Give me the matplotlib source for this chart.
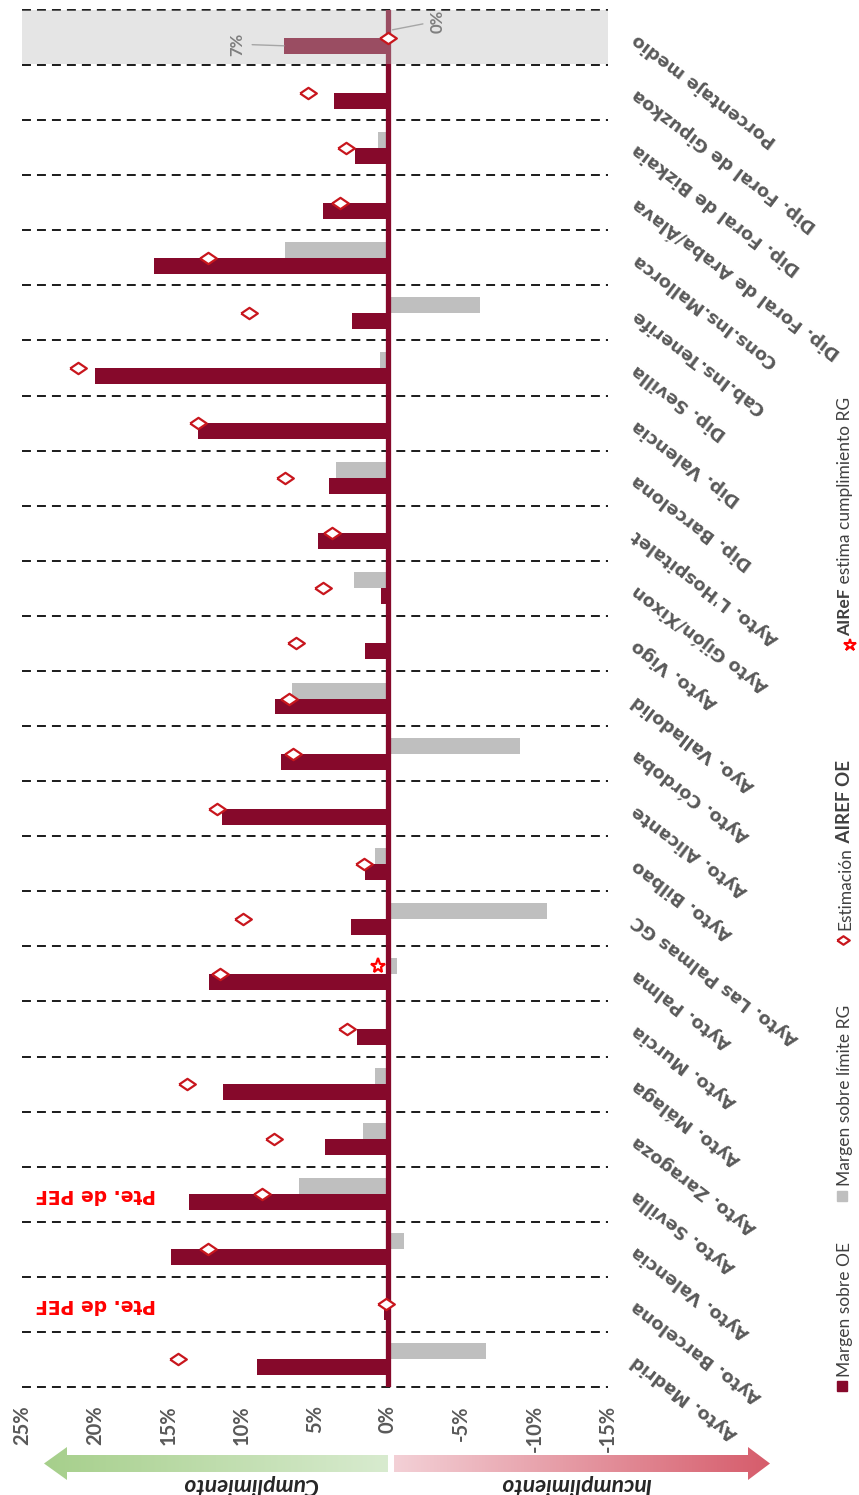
import numpy as np
import matplotlib
matplotlib.use("Agg")
from matplotlib import pyplot as plt
from matplotlib.patches import Polygon
from matplotlib.colors import LinearSegmentedColormap
from matplotlib.transforms import blended_transform_factory

# categorias de abajo (0) a arriba
categories = ["Ayto. Madrid", "Ayto. Barcelona", "Ayto. Valencia", "Ayto. Sevilla",
              "Ayto. Zaragoza", "Ayto. Málaga", "Ayto. Murcia", "Ayto. Palma",
              "Ayto. Las Palmas GC", "Ayto. Bilbao", "Ayto. Alicante", "Ayto. Córdoba",
              "Ayo. Valladolid", "Ayto. Vigo", "Ayto Gijón/Xixon", "Ayto. L'Hospitalet",
              "Dip. Barcelona", "Dip. Valencia", "Dip. Sevilla", "Cab.Ins.Tenerife",
              "Cons.Ins.Mallorca", "Dip. Foral de Araba/Álava", "Dip. Foral de Bizkaia",
              "Dip. Foral de Gipuzkoa", "Porcentaje medio"]
margen_oe = [8.93, 0.27, 14.85, 13.58, 4.31, 11.3, 2.12, 12.21, 2.55, 1.57, 11.37, 7.33,
             7.72, 1.57, 0.5, 4.76, 4.0, 12.96, 20.0, 2.48, 16.0, 4.46, 2.25, 3.69, 7.1]
nan = np.nan
margen_rg = [-6.7, nan, -1.07, 6.06, 1.73, 0.89, nan, -0.59, -10.87, 0.89, nan, -9.04,
             6.58, nan, 2.32, nan, 3.55, nan, 0.52, -6.31, 7.04, nan, 0.66, nan, nan]
estimacion_oe = [14.33, 0.14, 12.28, 8.63, 7.81, 13.74, 2.8, 11.5, 9.93, 1.62, 11.7, 6.51,
                 6.74, 6.29, 4.46, 3.85, 7.04, 12.98, 21.16, 9.48, 12.28, 3.26, 2.87, 5.44, 0.0]
airef_rg_idx = [7]
airef_rg_val = [0.66]
pte_pef_idx = [1, 3]
ticks = [25, 20, 15, 10, 5, 0, -5, -10, -15]
tick_labels = [f"{t}%" for t in ticks]
medio_oe_label = "7%"
medio_est_label = "0%"

RED = "#86092B"
GRAY = "#BFBFBF"
TXT = "#595959"
W, H = 859, 1495

fig = plt.figure(figsize=(W / 100, H / 100), dpi=100)
ax = fig.add_axes([22 / W, 1 - 1387 / H, 585.6 / W, 1377 / H])

y = np.arange(len(categories))
h = 0.29
ax.barh(y - h / 2, margen_oe, height=h, color=RED, zorder=2)
ax.barh(y + h / 2, margen_rg, height=h, color=GRAY, zorder=2)
ax.axvline(0, color=RED, lw=3.8, zorder=3)
for k in range(len(categories) + 1):
    ax.axhline(k - 0.5, color="#1a1a1a", lw=1.4, ls=(0, (4.6, 3.1)), zorder=1, clip_on=False)

# banda del porcentaje medio
ax.axhspan(len(categories) - 1.5 + 0.02, len(categories) - 0.5, color=(0.74, 0.74, 0.74),
           alpha=0.38, lw=0, zorder=4)

diamond = [(-1, 0), (0, 0.68), (1, 0), (0, -0.68), (-1, 0)]
ax.plot(estimacion_oe, y, ls="none", marker=diamond, ms=12, mfc="white", mec="#C8161D",
        mew=1.6, zorder=5)
ax.plot(airef_rg_val, np.array(airef_rg_idx) + h / 2, ls="none", marker="*", ms=11,
        mfc="white", mec="#FF0000", mew=1.6, zorder=5)

for i in pte_pef_idx:
    ax.text(20.0, i, "Pte. de PEF", rotation=180, color="red", fontweight="bold",
            ha="center", va="center", fontsize=13.5, zorder=6)

im = len(categories) - 1
ax.annotate(medio_oe_label, xy=(margen_oe[im], im - 0.15), xytext=(10.3, im - 0.12),
            rotation=90, ha="center", va="center", color="#7f7f7f", fontweight="bold",
            fontsize=12, family="Lato",
            arrowprops=dict(arrowstyle="-", color="#a6a6a6", lw=1, shrinkA=3, shrinkB=0),
            zorder=6)
ax.annotate(medio_est_label, xy=(estimacion_oe[im] - 0.3, im + 0.14), xytext=(-3.4, im + 0.3),
            rotation=90, ha="center", va="center", color="#7f7f7f", fontweight="bold",
            fontsize=12, family="Lato",
            arrowprops=dict(arrowstyle="-", color="#a6a6a6", lw=1, shrinkA=3, shrinkB=0),
            zorder=6)

ax.set_xlim(25, -15)
ax.set_ylim(-0.5, len(categories) - 0.5)
ax.set_yticks([])
ax.set_xticks(ticks)
ax.set_xticklabels(tick_labels, rotation=90, fontweight="bold", color=TXT, fontsize=14.5,
                   family="Lato")
ax.tick_params(axis="x", length=0, pad=13)
for s in ax.spines.values():
    s.set_visible(False)

trans = blended_transform_factory(ax.transAxes, ax.transData)
for i, c in enumerate(categories):
    ax.text(1.045, i, c, transform=trans, rotation=143, rotation_mode="anchor",
            ha="right", va="center", fontweight="bold", color=TXT, fontsize=12.8,
            family="DejaVu Sans", clip_on=False)

# capa en pixeles para flechas y leyenda
ov = fig.add_axes([0, 0, 1, 1])
ov.axis("off")


def grad_arrow(pts, x0, x1, c0, c1):
    cmap = LinearSegmentedColormap.from_list("g", [c0, c1])
    grad = np.linspace(0, 1, 256).reshape(1, -1)
    img = ov.imshow(grad, cmap=cmap, extent=[x0, x1, 1481, 1446], aspect="auto", zorder=1)
    poly = Polygon(pts, closed=True, transform=ov.transData, fc="none", ec="none")
    ov.add_patch(poly)
    img.set_clip_path(poly)


grad_arrow([(388, 1455), (67, 1455), (67, 1447), (44, 1463.5), (67, 1480), (67, 1472),
            (388, 1472)], 44, 388, "#a6cf8b", "#d8ebcf")
grad_arrow([(394, 1455), (748, 1455), (748, 1447), (770, 1463.5), (748, 1480), (748, 1472),
            (394, 1472)], 394, 770, "#f3d0d6", "#d65c6b")
ov.text(250, 1485, "Cumplimiento", rotation=180, ha="center", va="center", fontsize=16.5,
        fontweight="bold", style="italic", color="#262626", family="Lato")
ov.text(576, 1485, "Incumplimiento", rotation=180, ha="center", va="center", fontsize=16.5,
        fontweight="bold", style="italic", color="#262626", family="Lato")

# leyenda girada
LEG = "#404040"
ov.plot([842], [1386], marker="s", ms=7, color=RED, ls="none")
ov.text(845, 1377, "Margen sobre OE", rotation=90, ha="center", va="bottom", fontsize=12.5,
        color=LEG, family="Lato")
ov.plot([842], [1196], marker="s", ms=7, color=GRAY, ls="none")
ov.text(845, 1186, "Margen sobre límite RG", rotation=90, ha="center", va="bottom",
        fontsize=12.5, color=LEG, family="Lato")
ov.plot([843], [940], marker=diamond, ms=9, mfc="white", mec="#C8161D", mew=1.6, ls="none")
t1 = ov.text(845, 930, "Estimación", rotation=90, ha="center", va="bottom", fontsize=12.5,
             color=LEG, family="Lato")
ov.annotate(" AIREF OE", xy=(0.5, 1), xycoords=t1, rotation=90, ha="center", va="bottom",
            fontsize=13.5, color=LEG, family="Lato", fontweight="bold")
ov.plot([850], [645], marker="*", ms=9, mfc="white", mec="#FF0000", mew=1.5, ls="none")
t2 = ov.text(845, 636, "AIReF", rotation=90, ha="center", va="bottom", fontsize=12.5,
             color=LEG, family="Lato", fontweight="bold")
ov.annotate(" estima cumplimiento RG", xy=(0.5, 1), xycoords=t2, rotation=90, ha="center",
            va="bottom", fontsize=12.5, color=LEG, family="Lato")

ov.set_xlim(0, W)
ov.set_ylim(H, 0)

fig.savefig("out.png", dpi=100)
